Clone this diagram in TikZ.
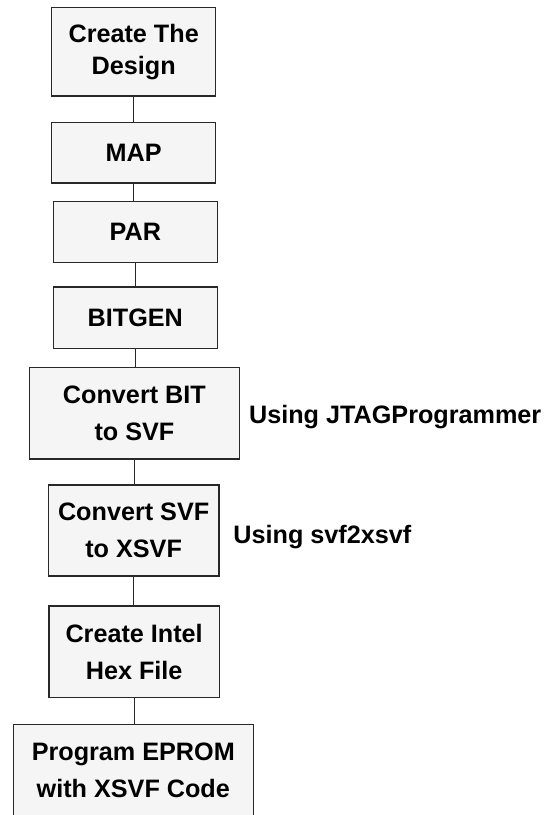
\documentclass[tikz,border=0pt]{standalone}
\usepackage{fontspec}
\setmainfont{Liberation Sans}
\definecolor{boxfill}{RGB}{245,245,245}
\definecolor{boxline}{RGB}{40,40,40}
\begin{document}
\begin{tikzpicture}[x=1pt,y=-1pt,
  stepbox/.style={draw=boxline, fill=boxfill, line width=1.3pt, inner sep=0pt,
    align=center, font=\bfseries\fontsize{25.2}{37.5}\selectfont},
  note/.style={anchor=base west, inner sep=0pt,
    font=\bfseries\fontsize{25.2}{30}\selectfont},
  link/.style={draw=boxline, line width=1.3pt}]
  \useasboundingbox (0,0) rectangle (559,815);
  \clip (0,0) rectangle (559,815);

  % flow steps
  \node[stepbox, minimum width=164, minimum height=88.7,
        font=\bfseries\fontsize{25.2}{32}\selectfont]
        (design) at (133.7,51.65) {Create The\\Design};
  \node[stepbox, minimum width=164, minimum height=60.7] (map) at (133.7,152.65) {MAP};
  \node[stepbox, minimum width=164, minimum height=61]   (par) at (135.3,232.2) {PAR};
  \node[stepbox, minimum width=164, minimum height=61.3] (bitgen) at (135.3,317.65) {BITGEN};
  \node[stepbox, minimum width=210.2, minimum height=91.7] (bit2svf) at (134.4,413.15) {Convert BIT\\to SVF};
  \node[stepbox, minimum width=170.7, minimum height=91] (svf2xsvf) at (133.65,530.5) {Convert SVF\\to XSVF};
  \node[stepbox, minimum width=170.3, minimum height=91.7] (hex) at (134.15,651.85) {Create Intel\\Hex File};
  \node[stepbox, minimum width=240, minimum height=92] (eprom) at (133.3,770.3) {Program EPROM\\with XSVF Code};

  % tool notes
  \node[note] (jtag) at (248.9,423.3) {Using JTAGProgrammer};
  \node[note] (xsvf) at (233.2,543.3) {Using svf2xsvf};

  % connectors
  \draw[link] (design.south) -- (design.south |- map.north);
  \draw[link] (map.south) -- (map.south |- par.north);
  \draw[link] (par.south) -- (par.south |- bitgen.north);
  \draw[link] (bitgen.south) -- (bitgen.south |- bit2svf.north);
  \draw[link] (bit2svf.south) -- (bit2svf.south |- svf2xsvf.north);
  \draw[link] (svf2xsvf.south) -- (svf2xsvf.south |- hex.north);
  \draw[link] (hex.south) -- (hex.south |- eprom.north);
\end{tikzpicture}
\end{document}
